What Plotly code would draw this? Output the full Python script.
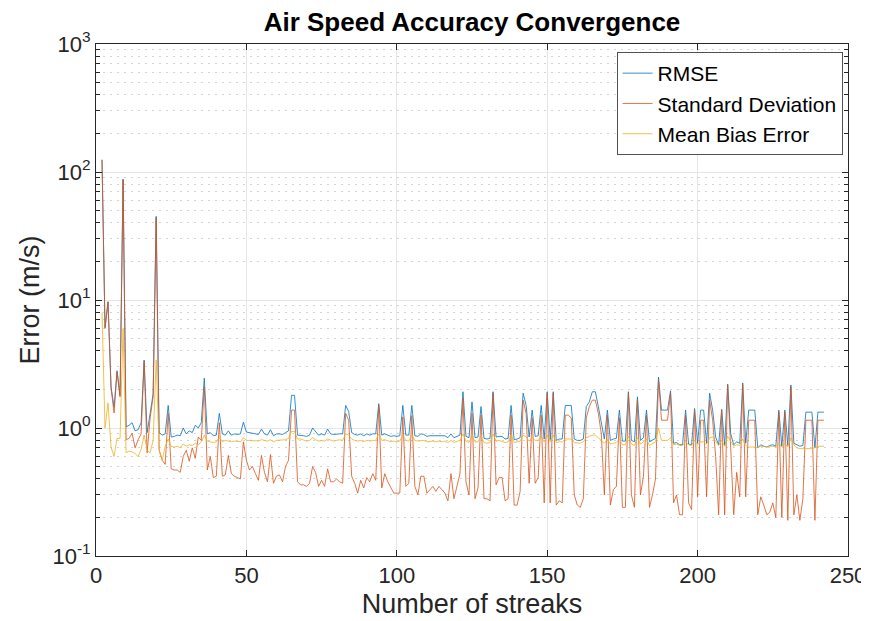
import plotly.graph_objects as go

x_start = 2
rmse = [
    125, 6.1, 9.7, 2.1, 1.45, 2.8, 1.8, 88, 1.02, 1.05,
    1.1, 0.95, 0.97, 1.1, 3.4, 0.92, 1.3, 1.85, 45, 0.92,
    0.88, 0.9, 1.5, 0.85, 0.86, 0.88, 0.87, 1.0, 0.9, 0.95,
    0.92, 1.05, 1.0, 1.1, 2.45, 0.9, 0.92, 0.87, 0.88, 1.3,
    0.9, 0.88, 0.95, 0.88, 0.9, 0.89, 0.9, 1.11, 0.93, 0.92,
    0.92, 0.9, 0.89, 0.98, 0.9, 0.88, 0.97, 0.87, 0.9, 0.9,
    0.89, 0.92, 0.95, 1.8, 1.8, 0.88, 0.88, 0.87, 0.86, 0.88,
    1.0, 0.93, 0.88, 0.9, 0.88, 0.98, 0.9, 0.89, 0.9, 0.9,
    0.9, 1.5, 1.35, 0.92, 0.89, 0.88, 0.9, 0.87, 0.9, 0.88,
    0.9, 0.9, 1.55, 0.88, 0.9, 0.88, 0.86, 0.87, 0.86, 0.87,
    1.5, 0.88, 0.88, 1.5, 0.87, 0.86, 0.9, 0.89, 0.86, 0.87,
    0.87, 0.86, 0.87, 0.86, 0.87, 0.84, 0.9, 0.84, 0.86, 0.88,
    1.92, 0.86, 0.84, 1.6, 0.84, 0.85, 1.47, 0.83, 0.82, 0.83,
    1.92, 0.85, 0.86, 0.86, 0.82, 0.83, 1.5, 0.81, 0.82, 0.84,
    1.87, 1.5, 0.85, 1.38, 0.86, 0.87, 1.5, 0.82, 1.92, 0.81,
    1.92, 0.8, 0.82, 0.82, 1.5, 1.5, 1.5, 0.82, 0.8, 0.8,
    0.82, 1.47, 1.6, 1.92, 1.92, 1.47, 1.1, 0.82, 1.38, 0.8,
    0.82, 0.83, 1.38, 0.79, 0.79, 1.92, 0.8, 0.78, 1.75, 0.8,
    0.84, 1.38, 0.78, 0.8, 0.83, 2.5, 1.38, 1.38, 1.38, 1.95,
    0.76, 0.77, 0.74, 0.74, 1.38, 0.75, 0.74, 1.42, 0.76, 1.38,
    1.38, 0.76, 1.87, 1.38, 0.85, 0.74, 1.4, 0.73, 2.2, 0.9,
    0.74, 0.78, 0.76, 2.25, 0.76, 1.38, 1.38, 1.38, 0.7, 0.74,
    0.72, 0.71, 0.73, 0.74, 0.72, 1.38, 0.72, 1.38, 0.73, 2.17,
    0.76, 0.74, 0.72, 0.73, 1.33, 1.33, 1.33, 0.7, 1.33, 1.33, 1.33,
]
std_dev = [
    124, 6.0, 9.6, 2.05, 1.31, 2.74, 1.75, 87, 0.81, 0.83,
    0.91, 0.70, 0.81, 0.90, 3.3, 0.64, 1.2, 1.75, 44, 0.67,
    0.56, 0.52, 1.3, 0.48, 0.47, 0.47, 0.45, 0.6, 0.67, 0.55,
    0.7, 0.58, 0.85, 0.8, 2.1, 0.47, 0.6, 0.41, 0.42, 1.1,
    0.42, 0.43, 0.61, 0.44, 0.42, 0.41, 0.40, 0.78, 0.56, 0.47,
    0.5, 0.44, 0.39, 0.61, 0.45, 0.38, 0.62, 0.37, 0.42, 0.43,
    0.38, 0.5, 0.56, 1.38, 1.38, 0.38, 0.36, 0.36, 0.35, 0.37,
    0.5, 0.45, 0.35, 0.39, 0.35, 0.48, 0.38, 0.38, 0.4, 0.38,
    0.37, 1.3, 1.15, 0.42, 0.37, 0.31, 0.39, 0.34, 0.41, 0.38,
    0.44, 0.39, 1.5, 0.34, 0.44, 0.38, 0.34, 0.31, 0.31, 0.31,
    1.22, 0.35, 0.37, 1.25, 0.35, 0.3, 0.42, 0.42, 0.31, 0.33,
    0.35, 0.32, 0.35, 0.33, 0.31, 0.27, 0.44, 0.28, 0.36, 0.44,
    1.7, 0.38, 0.3, 1.3, 0.28, 0.34, 1.26, 0.28, 0.28, 0.27,
    1.87, 0.36, 0.41, 0.41, 0.27, 0.28, 1.26, 0.25, 0.25, 0.32,
    1.65, 1.3, 0.37, 1.2, 0.37, 0.41, 1.26, 0.26, 1.87, 0.26,
    1.87, 0.25, 0.27, 0.26, 1.26, 1.26, 1.2, 0.3, 0.25, 0.24,
    0.28, 1.2, 1.47, 1.65, 1.65, 1.3, 0.9, 0.3, 1.26, 0.25,
    0.33, 0.35, 1.2, 0.24, 0.24, 1.87, 0.3, 0.24, 1.65, 0.3,
    0.42, 1.26, 0.24, 0.3, 0.4, 2.37, 1.15, 1.15, 1.15, 1.87,
    0.26, 0.30, 0.21, 0.21, 1.26, 0.26, 0.23, 1.38, 0.29, 1.15,
    1.15, 0.29, 1.65, 1.15, 0.6, 0.21, 1.38, 0.21, 2.17, 0.7,
    0.21, 0.45, 0.29, 2.17, 0.29, 1.15, 1.15, 1.15, 0.21, 0.29,
    0.25, 0.21, 0.22, 0.26, 0.2, 1.33, 0.2, 1.33, 0.19, 2.1,
    0.21, 0.3, 0.19, 0.28, 1.15, 1.15, 1.15, 0.19, 1.15, 1.15, 1.15,
]
mean_bias = [
    8.0, 1.0, 1.57, 0.71, 0.6, 0.83, 0.83, 6.0, 0.64, 0.66,
    0.65, 0.63, 0.6, 0.68, 0.88, 0.67, 0.64, 0.8, 3.4, 0.67,
    0.56, 0.72, 0.82, 0.72, 0.71, 0.72, 0.7, 0.75, 0.72, 0.74,
    0.73, 0.76, 0.74, 0.78, 0.88, 0.79, 0.78, 0.77, 0.78, 0.84,
    0.78, 0.8, 0.79, 0.78, 0.79, 0.78, 0.78, 0.84, 0.8, 0.8,
    0.8, 0.79, 0.79, 0.81, 0.8, 0.79, 0.81, 0.78, 0.8, 0.8,
    0.8, 0.81, 0.83, 0.94, 0.94, 0.82, 0.82, 0.8, 0.79, 0.8,
    0.84, 0.81, 0.79, 0.8, 0.79, 0.82, 0.8, 0.79, 0.8, 0.81,
    0.8, 0.9, 0.88, 0.82, 0.8, 0.79, 0.8, 0.78, 0.8, 0.79,
    0.8, 0.8, 0.9, 0.8, 0.81, 0.8, 0.78, 0.79, 0.78, 0.79,
    0.88, 0.8, 0.79, 0.88, 0.8, 0.79, 0.8, 0.8, 0.78, 0.79,
    0.79, 0.78, 0.79, 0.78, 0.79, 0.77, 0.8, 0.77, 0.79, 0.8,
    0.9, 0.79, 0.77, 0.88, 0.78, 0.78, 0.86, 0.77, 0.76, 0.77,
    0.9, 0.79, 0.8, 0.79, 0.77, 0.78, 0.88, 0.77, 0.78, 0.79,
    0.88, 0.85, 0.79, 0.84, 0.8, 0.8, 0.86, 0.78, 0.88, 0.78,
    0.88, 0.77, 0.78, 0.78, 0.82, 0.82, 0.82, 0.77, 0.76, 0.76,
    0.78, 0.84, 0.86, 0.88, 0.88, 0.84, 0.8, 0.76, 0.82, 0.75,
    0.76, 0.77, 0.82, 0.74, 0.74, 0.86, 0.75, 0.73, 0.84, 0.75,
    0.78, 0.82, 0.73, 0.75, 0.78, 1.0, 0.8, 0.8, 0.8, 0.84,
    0.74, 0.75, 0.73, 0.73, 0.78, 0.74, 0.73, 0.8, 0.74, 0.78,
    0.78, 0.75, 0.84, 0.85, 0.78, 0.73, 0.8, 0.72, 0.86, 0.78,
    0.72, 0.74, 0.73, 0.82, 0.73, 0.71, 0.71, 0.71, 0.7, 0.72,
    0.72, 0.71, 0.72, 0.72, 0.71, 0.76, 0.71, 0.76, 0.71, 0.84,
    0.74, 0.7, 0.69, 0.69, 0.69, 0.69, 0.69, 0.7, 0.72, 0.72, 0.72,
]
streaks = list(range(x_start, x_start + len(rmse)))

y_tick_vals = [0.1, 1, 10, 100, 1000]
y_tick_text = ["10<sup>-1</sup>", "10<sup>0</sup>", "10<sup>1</sup>", "10<sup>2</sup>", "10<sup>3</sup>"]
x_tick_vals = [0, 50, 100, 150, 200, 250]

series = [
    ("RMSE", rmse, "#0072BD"),
    ("Standard Deviation", std_dev, "#D95319"),
    ("Mean Bias Error", mean_bias, "#EDB120"),
]

fig = go.Figure()
for name, vals, col in series:
    fig.add_trace(go.Scatter(x=streaks, y=vals, mode="lines", name=name,
                             line=dict(color=col, width=0.8)))

font_fam = "Liberation Sans, Arial, Helvetica, sans-serif"
axis_col = "#262626"
fig.update_layout(
    width=861, height=613,
    paper_bgcolor="white", plot_bgcolor="white",
    margin=dict(l=88, r=21, t=36, b=65, autoexpand=False),
    font=dict(family=font_fam, color=axis_col),
    title=dict(text="<b>Air Speed Accuracy Convergence</b>", x=0.5,
               xanchor="center", xref="paper", y=0.978, yref="container",
               yanchor="middle", font=dict(size=26, color="black")),
    showlegend=True,
    legend=dict(x=0.993, y=0.984, xanchor="right", yanchor="top",
                bgcolor="white", bordercolor=axis_col, borderwidth=0.8,
                font=dict(size=21, color="black"), tracegroupgap=0,
                itemwidth=30),
)
fig.update_xaxes(
    range=[0, 250], tickvals=x_tick_vals, ticks="inside", ticklen=6, automargin=False,
    tickcolor=axis_col, showline=True, linecolor=axis_col, linewidth=1, mirror="ticks",
    showgrid=True, gridcolor="#e6e6e6", gridwidth=1, zeroline=False,
    tickfont=dict(size=22), title=dict(text="Number of streaks", font=dict(size=27), standoff=6),
)
fig.update_yaxes(
    type="log", range=[-1, 3], tickvals=y_tick_vals, ticktext=y_tick_text, automargin=False,
    ticks="inside", ticklen=6, tickcolor=axis_col, showline=True, linecolor=axis_col,
    linewidth=1, mirror="ticks", showgrid=True, gridcolor="#e6e6e6", gridwidth=1,
    zeroline=False, tickfont=dict(size=22),
    title=dict(text="Error (m/s)", font=dict(size=27), standoff=4),
    minor=dict(ticks="inside", ticklen=4, tickcolor=axis_col, showgrid=True,
               gridcolor="#d4d4d4", griddash="2px,5px", gridwidth=1,
               tickvals=[m * 10 ** e for e in (-1, 0, 1, 2) for m in range(2, 10)]),
)
fig.write_html("out.html")
